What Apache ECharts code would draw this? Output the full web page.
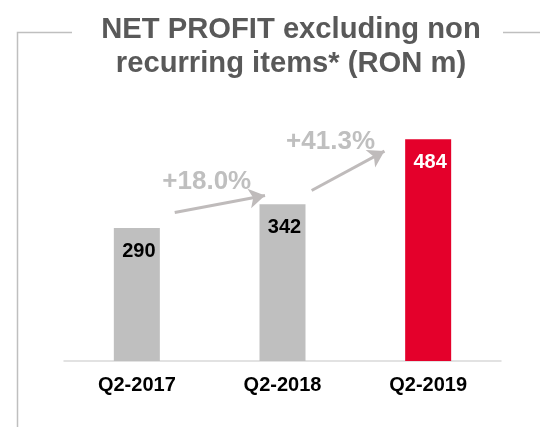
<!DOCTYPE html>
<html>
<head>
<meta charset="utf-8">
<script src="https://cdn.jsdelivr.net/npm/echarts@6/dist/echarts.min.js"></script>
<style>html,body{margin:0;padding:0;background:#fff}#c{width:540px;height:427px}</style>
</head>
<body>
<div id="c"></div>
<script>
var categories = ['Q2-2017', 'Q2-2018', 'Q2-2019'];
var values = [290, 342, 484];
var barColors = ['#bfbfbf', '#bfbfbf', '#e4002b'];
var labelColors = ['#000000', '#000000', '#ffffff'];
var growthLabels = ['+18.0%', '+41.3%'];
// arrow annotations: [x (category position), value]
var arrow1 = [[0.26, 324], [0.88, 361]];
var arrow2 = [[1.2, 372], [1.7, 458]];
var growthPos = [[0.48, 392], [1.33, 478]];

var chart = echarts.init(document.getElementById('c'));
var FONT = '"Liberation Sans", Arial, sans-serif';
chart.setOption({
  animation: false,
  title: {
    text: 'NET PROFIT excluding non\nrecurring items* (RON m)',
    left: 286, top: 8, textAlign: 'center',
    textStyle: { fontFamily: FONT, fontSize: 29.2, fontWeight: 'bold', color: '#595959', lineHeight: 34 }
  },
  graphic: [
    { type: 'polyline', shape: { points: [[17.5, 427], [17.5, 32.5], [72, 32.5]] }, style: { stroke: '#bfbfbf', lineWidth: 1.5, fill: null } },
    { type: 'line', shape: { x1: 503, y1: 32.5, x2: 540, y2: 32.5 }, style: { stroke: '#bfbfbf', lineWidth: 1.5 } }
  ],
  grid: { left: 64, right: 39, top: 86, bottom: 66 },
  xAxis: [
    {
      type: 'category', data: categories,
      axisLine: { lineStyle: { color: '#d9d9d9', width: 1.5 } },
      axisTick: { show: false },
      axisLabel: { fontFamily: FONT, fontSize: 20, fontWeight: 'bold', color: '#000', margin: 14 }
    },
    { type: 'value', min: -0.5, max: 2.5, show: false }
  ],
  yAxis: { type: 'value', min: 0, max: 600, show: false },
  series: [
    {
      type: 'bar', barWidth: 46,
      data: values.map(function (v, i) {
        return { value: v, itemStyle: { color: barColors[i] }, label: { color: labelColors[i] } };
      }),
      label: {
        show: true, position: 'insideTop', distance: 13, offset: [2, 0],
        fontFamily: FONT, fontSize: 20, fontWeight: 'bold'
      }
    },
    {
      type: 'line', xAxisIndex: 1, data: [], symbol: 'none',
      markLine: {
        silent: true,
        symbol: ['none', 'arrow'], symbolSize: [15, 16],
        lineStyle: { color: '#bfbbbb', width: 3, type: 'solid' },
        label: { show: false },
        data: [
          [{ coord: arrow1[0] }, { coord: arrow1[1] }],
          [{ coord: arrow2[0] }, { coord: arrow2[1] }]
        ]
      },
      markPoint: {
        silent: true, symbol: 'circle', symbolSize: 0,
        label: { show: true, position: 'inside', fontFamily: FONT, fontSize: 26, fontWeight: 'bold', color: '#bfbfbf', formatter: function (p) { return p.name; } },
        data: growthPos.map(function (p, i) { return { name: growthLabels[i], coord: p }; })
      }
    }
  ]
});
</script>
</body>
</html>
